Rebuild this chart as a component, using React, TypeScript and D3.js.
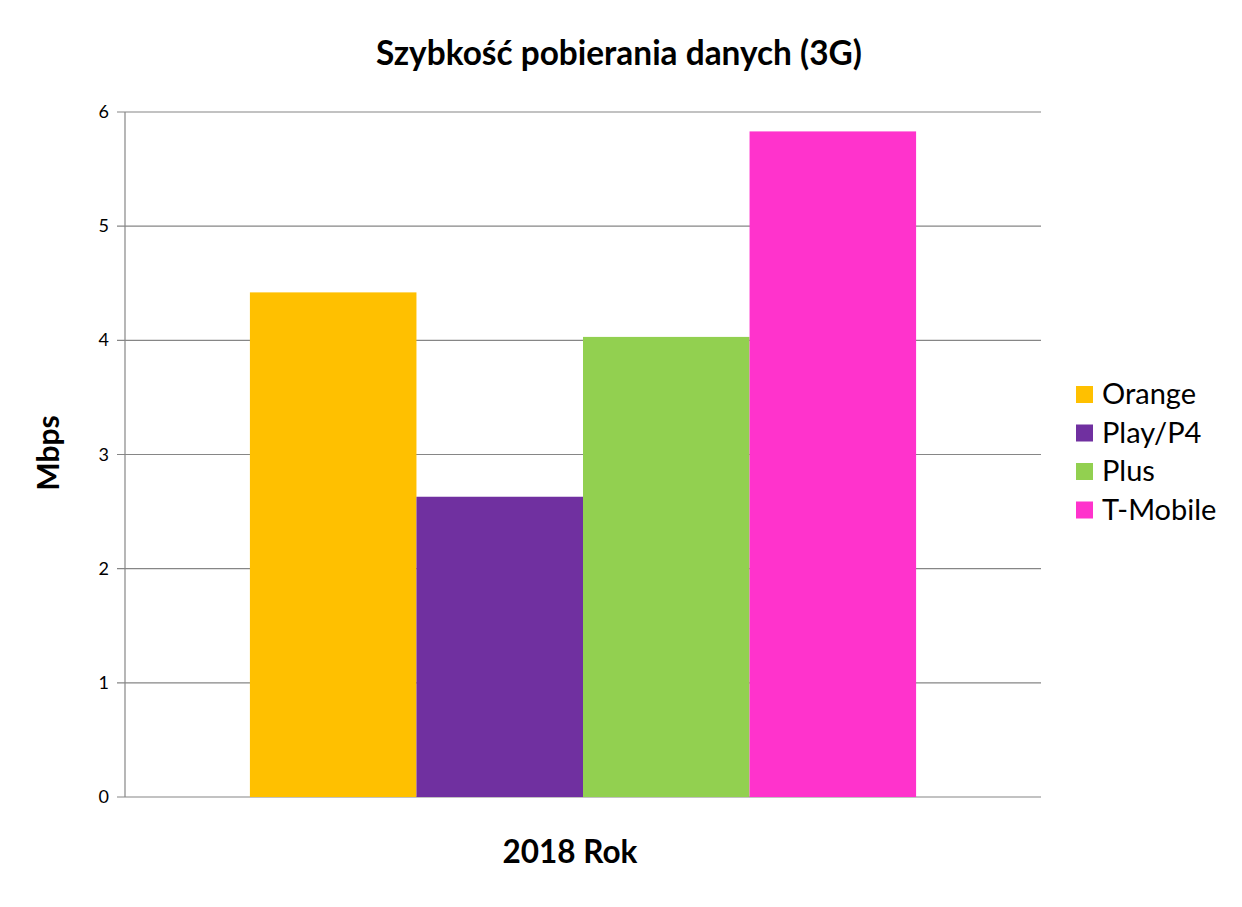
import React from "react";
import * as d3 from "d3";

const categories = ["2018 Rok"];
const seriesNames = ["Orange", "Play/P4", "Plus", "T-Mobile"];
const seriesValues = [4.42, 2.63, 4.03, 5.83];
const seriesColors = ["#FFC000", "#7030A0", "#92D050", "#FF33CC"];
const yTicks = [0, 1, 2, 3, 4, 5, 6];

const W = 1242;
const H = 907;
const FONT = "Lato, 'Open Sans', sans-serif";

export default function App() {
  const left = 125;
  const right = 1041;
  const top = 112;
  const bottom = 797;

  const y = d3.scaleLinear().domain([0, 6]).range([bottom, top]);
  const x0 = d3.scaleBand().domain(categories).range([left, right]).paddingInner(0).paddingOuter(0);
  const groupW = x0.bandwidth() * (4 / 5.5);
  const x1 = d3
    .scaleBand()
    .domain(seriesNames)
    .range([0, groupW])
    .padding(0);
  const groupStart = (x0(categories[0]) as number) + (x0.bandwidth() - groupW) / 2;

  return (
    <svg width={W} height={H} style={{ display: "block", position: "absolute", left: 0, top: 0 }}>
      <rect x={0} y={0} width={W} height={H} fill="#fff" />
      <text x={619} y={65} textAnchor="middle" fontFamily={FONT} fontWeight="bold" fontSize={33.4} fill="#000">
        Szybkość pobierania danych (3G)
      </text>
      {yTicks.map((t) => (
        <g key={t}>
          <line x1={left - 8} x2={right} y1={y(t)} y2={y(t)} stroke="#868686" strokeWidth={1.2} />
          <text x={109} y={y(t) + 6} textAnchor="end" fontFamily={FONT} fontSize={18} fill="#000">
            {t}
          </text>
        </g>
      ))}
      <line x1={left} x2={left} y1={top} y2={bottom} stroke="#868686" strokeWidth={1.2} />
      {seriesNames.map((s, i) => (
        <rect
          key={s}
          x={groupStart + (x1(s) as number)}
          y={y(seriesValues[i])}
          width={x1.bandwidth()}
          height={bottom - y(seriesValues[i])}
          fill={seriesColors[i]}
        />
      ))}
      <text
        transform={`translate(59, 453) rotate(-90)`}
        textAnchor="middle"
        fontFamily={FONT}
        fontWeight="bold"
        fontSize={30}
        fill="#000"
      >
        Mbps
      </text>
      <text x={570} y={863} textAnchor="middle" fontFamily={FONT} fontWeight="bold" fontSize={31.5} fill="#000">
        {categories[0]}
      </text>
      {seriesNames.map((s, i) => (
        <g key={s} transform={`translate(1076, ${386 + i * 38.5})`}>
          <rect x={0} y={0} width={17} height={17} fill={seriesColors[i]} />
          <text x={26} y={18} fontFamily={FONT} fontSize={29} fill="#000">
            {s}
          </text>
        </g>
      ))}
    </svg>
  );
}
